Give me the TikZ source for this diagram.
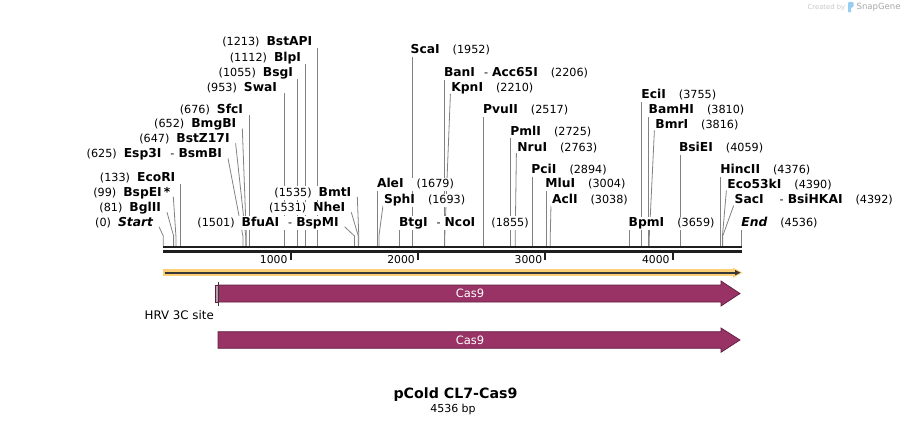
\documentclass[tikz,border=0pt]{standalone}
\usepackage{fontspec}
\setmainfont{DejaVu Sans}
\usetikzlibrary{backgrounds}
\definecolor{casf}{RGB}{153,51,102}
\definecolor{casd}{RGB}{95,30,62}
\definecolor{orng}{RGB}{252,206,118}
\definecolor{dkl}{RGB}{55,55,55}
\definecolor{bbc}{RGB}{30,30,30}
\definecolor{sitec}{RGB}{130,130,130}
\definecolor{hrvf}{RGB}{185,158,172}
\definecolor{logob}{RGB}{150,205,240}
\newcommand\nm[1]{{\fontsize{12.3}{14}\selectfont\bfseries #1}}
\newcommand\dsh{\hspace{9pt}-\hspace{4pt}}
\newcommand\bpx[1]{163.3+0.12736*#1}
\newcommand\mksite[2]{\coordinate (t#1) at ({\bpx{#2}},236); \coordinate (b#1) at ({\bpx{#2}},246);}
\tikzset{
  lab/.style={fill=white, inner sep=0.8pt, text height=9pt, text depth=2.5pt, font=\fontsize{11.2}{13}\selectfont},
  sl/.style={draw=sitec, line width=0.8pt},
  castxt/.style={text=white, font=\fontsize{11.5}{13}\selectfont, inner sep=0pt},
  cas/.style={fill=casf, draw=casd, line width=0.7pt},
}
\begin{document}
\begin{tikzpicture}[x=1pt,y=-1pt]
\useasboundingbox (0,0) rectangle (905,425);

% sites
\mksite{BstAPI}{1213}\mksite{BlpI}{1112}\mksite{BsgI}{1055}\mksite{SwaI}{953}
\mksite{SfcI}{676}\mksite{BmgBI}{652}\mksite{BstZ}{647}\mksite{Esp}{625}
\mksite{EcoRI}{133}\mksite{BspEI}{99}\mksite{BglII}{81}\mksite{Start}{0}
\mksite{BfuAI}{1501}\mksite{NheI}{1531}\mksite{BmtI}{1535}
\mksite{ScaI}{1952}\mksite{BanI}{2206}\mksite{KpnI}{2210}\mksite{PvuII}{2517}
\mksite{PmlI}{2725}\mksite{NruI}{2763}\mksite{PciI}{2894}\mksite{MluI}{3004}
\mksite{AclI}{3038}\mksite{AleI}{1679}\mksite{SphI}{1693}\mksite{BtgI}{1855}
\mksite{EciI}{3755}\mksite{BamHI}{3810}\mksite{BmrI}{3816}\mksite{BsiEI}{4059}
\mksite{HincII}{4376}\mksite{Eco53}{4390}\mksite{SacI}{4392}\mksite{BpmI}{3659}
\mksite{End}{4536}

% left labels
\node[lab,anchor=base east] (lBstAPI) at (313.3,46) {(1213)\hspace{7pt}\nm{BstAPI}};
\node[lab,anchor=base east] (lBlpI) at (302,61.8) {(1112)\hspace{7pt}\nm{BlpI}};
\node[lab,anchor=base east] (lBsgI) at (294,76.8) {(1055)\hspace{7pt}\nm{BsgI}};
\node[lab,anchor=base east] (lSwaI) at (278,91.2) {(953)\hspace{7pt}\nm{SwaI}};
\node[lab,anchor=base east] (lSfcI) at (244,113.5) {(676)\hspace{7pt}\nm{SfcI}};
\node[lab,anchor=base east] (lBmgBI) at (237.3,128) {(652)\hspace{7pt}\nm{BmgBI}};
\node[lab,anchor=base east] (lBstZ) at (230.6,142.8) {(647)\hspace{7pt}\nm{BstZ17I}};
\node[lab,anchor=base east] (lEsp) at (223,157.8) {(625)\hspace{7pt}\nm{Esp3I}\dsh\nm{BsmBI}};
\node[lab,anchor=base east] (lEcoRI) at (176.3,181.8) {(133)\hspace{7pt}\nm{EcoRI}};
\node[lab,anchor=base east] (lBspEI) at (171.3,196.2) {(99)\hspace{7pt}\nm{BspEI\,*}};
\node[lab,anchor=base east] (lBglII) at (162,211.8) {(81)\hspace{7pt}\nm{BglII}};
\node[lab,anchor=base east] (lStart) at (154,226.2) {(0)\hspace{7pt}\nm{\itshape Start}};
\node[lab,anchor=base east] (lBfuAI) at (339.6,226.2) {(1501)\hspace{7pt}\nm{BfuAI}\dsh\nm{BspMI}};
\node[lab,anchor=base east] (lNheI) at (346.3,211.8) {(1531)\hspace{7pt}\nm{NheI}};
\node[lab,anchor=base east] (lBmtI) at (352.3,196.2) {(1535)\hspace{7pt}\nm{BmtI}};

% right labels
\node[lab,anchor=base west] (lScaI) at (409.7,53.5) {\nm{ScaI}\hspace{13pt}(1952)};
\node[lab,anchor=base west] (lBanI) at (443,76.8) {\nm{BanI}\dsh\nm{Acc65I}\hspace{13pt}(2206)};
\node[lab,anchor=base west] (lKpnI) at (450.4,91.8) {\nm{KpnI}\hspace{13pt}(2210)};
\node[lab,anchor=base west] (lPvuII) at (482,113.8) {\nm{PvuII}\hspace{13pt}(2517)};
\node[lab,anchor=base west] (lPmlI) at (509.4,135.2) {\nm{PmlI}\hspace{13pt}(2725)};
\node[lab,anchor=base west] (lNruI) at (516.4,151.2) {\nm{NruI}\hspace{13pt}(2763)};
\node[lab,anchor=base west] (lPciI) at (530.4,173.5) {\nm{PciI}\hspace{13pt}(2894)};
\node[lab,anchor=base west] (lMluI) at (544.4,187.8) {\nm{MluI}\hspace{13pt}(3004)};
\node[lab,anchor=base west] (lAclI) at (551,203.5) {\nm{AclI}\hspace{13pt}(3038)};
\node[lab,anchor=base west] (lAleI) at (376,187.8) {\nm{AleI}\hspace{13pt}(1679)};
\node[lab,anchor=base west] (lSphI) at (383,203.5) {\nm{SphI}\hspace{13pt}(1693)};
\node[lab,anchor=base west] (lBtgI) at (398,226.2) {\nm{BtgI}\dsh\nm{NcoI}};
\node[lab,anchor=base west] (lBtgIn) at (490.4,226.2) {(1855)};
\node[lab,anchor=base west] (lEciI) at (640.4,98.5) {\nm{EciI}\hspace{13pt}(3755)};
\node[lab,anchor=base west] (lBamHI) at (647.7,113.5) {\nm{BamHI}\hspace{13pt}(3810)};
\node[lab,anchor=base west] (lBmrI) at (654.4,128.5) {\nm{BmrI}\hspace{13pt}(3816)};
\node[lab,anchor=base west] (lBsiEI) at (678,151.8) {\nm{BsiEI}\hspace{13pt}(4059)};
\node[lab,anchor=base west] (lHincII) at (719.4,173.5) {\nm{HincII}\hspace{13pt}(4376)};
\node[lab,anchor=base west] (lEco53) at (726.4,188.5) {\nm{Eco53kI}\hspace{13pt}(4390)};
\node[lab,anchor=base west] (lSacI) at (733.7,203.5) {\nm{SacI}\hspace{16pt}-\hspace{4pt}\nm{BsiHKAI}\hspace{13pt}(4392)};
\node[lab,anchor=base west] (lBpmI) at (627.7,226.8) {\nm{BpmI}\hspace{13pt}(3659)};
\node[lab,anchor=base west] (lEnd) at (740.4,226.8) {\nm{\itshape End}\hspace{13pt}(4536)};

\begin{pgfonlayer}{background}
% vertical leaders
\foreach \s in {BstAPI,BlpI,BsgI,SwaI,SfcI,EcoRI,ScaI,BanI,PvuII,PmlI,PciI,MluI,AleI,BtgI,EciI,BamHI,BsiEI,HincII,BpmI,End}
  {\draw[sl] (l\s.base -| t\s) ++(0,2) -- (b\s);}
% left diagonal leaders
\foreach \s in {BmgBI,BstZ,Esp,BglII,Start,BfuAI,NheI,BmtI}
  {\draw[sl] (l\s.base east) ++(5,0.5) -- (t\s) -- (b\s);}
\draw[sl] (lBspEI.base east) ++(2,0.5) -- (tBspEI) -- (bBspEI);
% right diagonal leaders
\foreach \s in {KpnI,NruI,AclI,SphI,BmrI,Eco53,SacI}
  {\draw[sl] (l\s.base west) ++(0,2) -- (t\s) -- (b\s);}
\end{pgfonlayer}

% backbone
\fill[bbc] (163.3,246) rectangle (741.5,248.4);
\fill[bbc] (163.3,250.4) rectangle (741.5,252.7);
% scale
\foreach \k in {1000,2000,3000,4000}{
  \draw[bbc, line width=2pt] ({\bpx{\k}},252.5) -- ({\bpx{\k}},259.5);
  \node[anchor=base east, inner sep=0pt, font=\fontsize{10.8}{12}\selectfont] (sc\k) at ({\bpx{\k}-3},263) {\k};
}

% orange feature
\fill[orng] (163.3,269.3) rectangle (734,276);
\fill[orng] (733,267.6) -- (742.5,272.7) -- (733,277.8) -- cycle;
\draw[dkl, line width=1.7pt] (164.5,272.7) -- (736,272.7);
\fill[dkl] (735,270) -- (740.5,272.7) -- (735,275.4) -- cycle;

% Cas9 arrows
\draw[cas] (218,285) -- (721,285) -- (721,281) -- (740,293.5) -- (721,306) -- (721,302) -- (218,302) -- cycle;
\node[castxt] (cas1) at (470,293.5) {Cas9};
\filldraw[fill=hrvf, draw=casd, line width=0.5pt] (215.3,285) rectangle (217.8,302);
\draw[dkl, line width=0.6pt] (217.8,281.5) -- (217.8,306);
\node[anchor=base east, inner sep=0pt, font=\fontsize{11.8}{13}\selectfont] (hrv) at (214,319.5) {HRV 3C site};

\draw[cas] (218,331.7) -- (721,331.7) -- (721,328) -- (740,340) -- (721,352.3) -- (721,348.3) -- (218,348.3) -- cycle;
\node[castxt] (cas2) at (470,340) {Cas9};

% title
\node[inner sep=0pt, font=\fontsize{14.2}{16}\selectfont\bfseries] (title) at (455.5,394.5) {pCold CL7-Cas9};
\node[inner sep=0pt, font=\fontsize{11}{13}\selectfont] (len) at (453,409.5) {4536 bp};

% logo
\node[anchor=west, inner sep=0pt, text=black!22, font=\fontsize{6.8}{8}\selectfont] (cby) at (807.5,7.5) {Created by};
\fill[logob, rounded corners=1pt] (848,2) -- (853.5,2) -- (853.5,7) -- (851,7.5) -- (851,12.5) -- (848,12.5) -- cycle;
\node[anchor=west, inner sep=0pt, text=black!35, font=\fontsize{8.5}{10}\selectfont] (sg) at (856.5,7.3) {SnapGene};
\end{tikzpicture}
\end{document}
